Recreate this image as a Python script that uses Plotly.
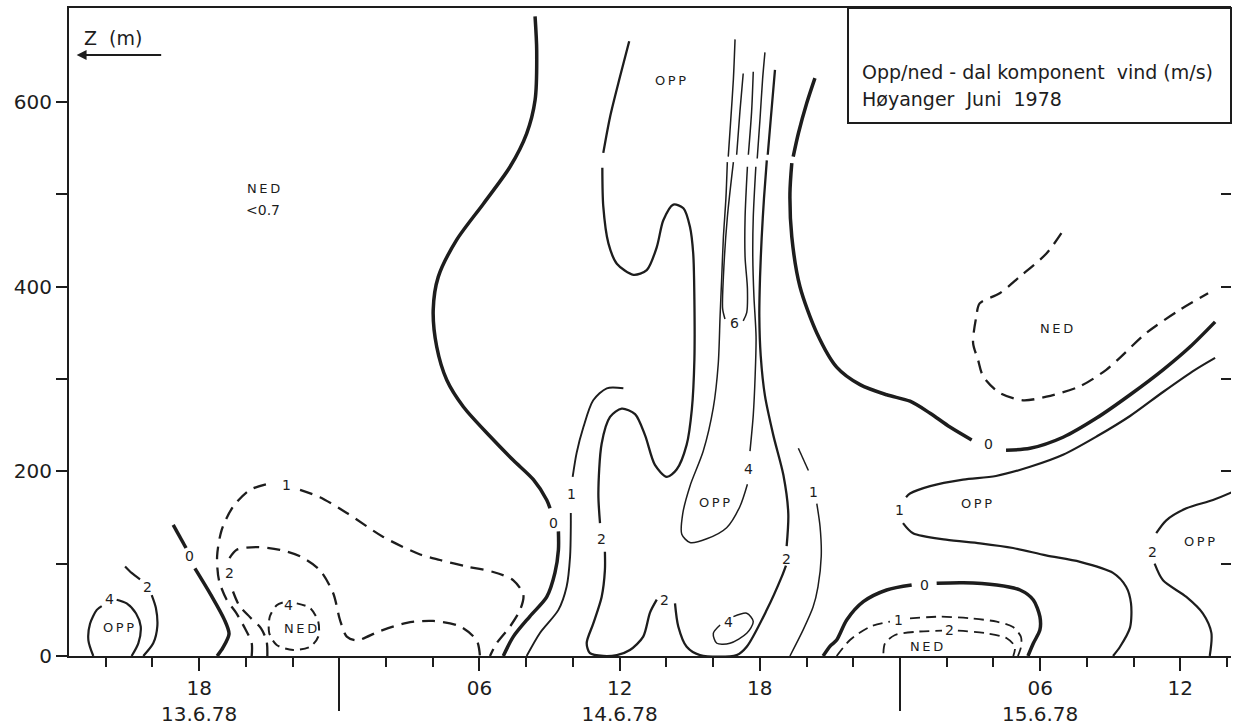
import plotly.graph_objects as go

INK = "#1d1d1d"
FONT = "DejaVu Sans"

# Time axis: hours counted from 13.6.78 00:00. Height axis: metres above ground.
X_RANGE = [12.43, 62.17]
Z_RANGE = [0, 702]

# ---------------- isotach lines (m/s), solid = OPP (up-valley), dashed = NED ----------------
# 13.6 afternoon OPP cell
c4_opp13_t = [13.47, 13.26, 13.33, 13.62, 13.83, None, 14.47, 14.90, 15.30, 15.50, 15.40, 15.11]
c4_opp13_z = [0, 17, 35, 50, 54, None, 61, 57, 46, 32, 14, 0]
c2_opp13_t = [14.83, 15.11, 15.47, None, 15.97, 16.15, 16.21, 16.04, 15.61]
c2_opp13_z = [97, 90, 83, None, 66, 52, 32, 14, 0]
c0_eve13_t = [16.89, 17.44, None, 17.82, 18.51, 19.07, 19.28, 19.02, 18.77]
c0_eve13_z = [142, 117, None, 95, 66, 40, 24, 9, 0]

# night 13./14.6 NED flow
c1_ned14_t = [20.25, 20.25, 19.96, 19.58, 19.18, 18.85, 18.77, 18.97, 19.46, 20.18, 21.03, None,
              22.32, 23.17, 24.32, 25.88, 27.46, 28.31, 29.45, 30.59, 31.45, 31.88, 31.74, 31.31, 30.74, 30.45]
c1_ned14_z = [0, 14, 30, 47, 61, 82, 108, 137, 162, 180, 187, None,
              180, 172, 155, 129, 110, 104, 97, 91, 82, 66, 50, 32, 14, 0]
c2_ned14_t = [20.92, 20.89, 20.65, 20.18, 19.71, 19.39, None, 19.30, 19.61, 20.46, 21.46, 22.32,
              23.17, 23.74, 24.03, 24.32, 24.75, 25.74, 26.89, 28.02, 29.17, 29.88, 30.02]
c2_ned14_z = [0, 16, 30, 42, 55, 74, None, 106, 115, 118, 115, 108,
              93, 68, 39, 21, 17, 27, 36, 38, 32, 17, 0]
c4_ned14_t = [22.18, 22.75, 23.10, 23.10, 22.75, 22.03, 21.32, 21.00, 21.03, 21.32, 21.58]
c4_ned14_z = [57, 52, 37, 21, 10, 6.5, 12, 25, 43, 55, 58]

# 14.6 morning turn-over and daytime OPP
c0_day14_t = [32.38, 32.45, 32.38, 32.02, 31.31, 30.17, 29.03, 28.24, 28.02, 28.17, 28.60, 29.31, 30.45,
              31.45, 32.31, 32.88, 33.02, None, 33.38, 33.38, 33.23, 32.88, 32.16, 31.45, 31.02]
c0_day14_z = [693, 656, 602, 566, 530, 490, 451, 411, 375, 335, 299, 270, 238,
              212, 191, 169, 160, None, 135, 115, 90, 64, 43, 21, 0]
c1_day14_t = [36.16, 35.45, 34.87, 34.45, 34.16, 33.99, None, 33.91, 33.91, 33.88, 33.73, 33.38, 32.59, 32.02]
c1_day14_z = [290, 290, 277, 248, 220, 194, None, 155, 140, 108, 75, 50, 25, 0]
c2_day14_t = [36.41, 36.02, 35.59, 35.30, None, 35.26, 35.30, 35.52, 35.88, 36.59, 37.16, 37.59, 37.87,
              38.30, 38.73, 39.01, 39.15, 39.20, 39.20, 39.09, 38.87, 38.44, 38.02, 37.51, 37.09, 36.66,
              36.09, 35.59, 35.23, 35.09, 35.16, None, 35.37, 35.37, 35.23, 34.87, 34.59, 34.73, 35.30,
              35.88, 36.44, 37.01, 37.30, 37.59, None, 38.37, 38.51, 38.87, 39.44, 41.01, 41.44, 42.30,
              42.94, 43.12, None, 43.15, 43.22, 43.01, 42.58, 42.22, 42.04, 41.98, 42.01, 42.08, 42.18,
              42.30, None, 42.34, 42.47, 42.65]
c2_day14_z = [666, 628, 584, 545, None, 529, 487, 447, 425, 413, 418, 443, 472,
              489, 485, 465, 436, 386, 321, 267, 229, 202, 194, 207, 239, 262,
              268, 259, 230, 176, 144, None, 113, 93, 64, 35, 14, 3, 0,
              1, 6.5, 21, 47, 61, None, 57, 32, 10, 1, 1, 10, 50,
              86, 98, None, 119, 154, 196, 239, 282, 325, 368, 410, 453, 496,
              537, None, 543, 582, 635]
c4_day14_t = [40.94, 40.87, 40.76, 40.65, None, 40.61, 40.55, 40.44, 40.37, 40.30, 40.22, 40.01, 39.58,
              39.01, 38.70, 38.66, 39.01, 39.73, 40.58, 41.15, 41.47, None, 41.58, 41.72, 41.80, 41.84,
              41.75, 41.70, 41.72, 41.83, None, 41.89, 42.01, 42.12, 42.22]
c4_day14_z = [668, 625, 582, 541, None, 535, 496, 453, 410, 368, 316, 269, 222,
              184, 154, 132, 123, 127, 139, 162, 186, None, 222, 261, 303, 346,
              389, 432, 475, 530, None, 539, 582, 625, 654]
c6_day14_t = [41.29, 41.15, 41.01, None, 40.87, 40.61, 40.44, 40.41, 40.51, None,
              41.29, 41.44, 41.47, 41.37, 41.37, 41.47, None, 41.51, 41.65, 41.72]
c6_day14_z = [631, 590, 543, None, 535, 475, 410, 376, 365, None,
              363, 372, 398, 432, 475, 530, None, 543, 590, 633]
c4_low14_t = [40.87, 41.44, 41.72, 41.44, 40.72, 40.16, 40.01, 40.30]
c4_low14_z = [42.6, 46.3, 37.2, 24.6, 13.8, 13.8, 24.6, 33.6]
c1_eve14_t = [43.65, 44.08, None, 44.44, 44.58, 44.63, 44.49, 44.28, 43.85, 43.29]
c1_eve14_z = [225, 201, None, 165, 140, 108, 75, 53, 28, 0]

# night 14./15.6 and 15.6 morning
c0_ngt15_t = [44.36, 44.01, 43.65, 43.43, None, 43.37, 43.29, 43.37, 43.72, 44.44, 45.29, 46.29, 47.43,
              48.43, 49.29, 50.14, 51.07, None, 52.54, 53.57, 54.98, 56.43, 57.85, 59.26, 60.42, 61.49]
c0_ngt15_z = [626, 599, 566, 541, None, 534, 501, 454, 400, 350, 313, 294, 283,
              276, 263, 248, 234, None, 223, 225, 237, 258, 283, 310, 335, 362]
c1_opp15_t = [61.49, 60.63, 59.26, 57.85, 56.43, 54.98, 53.57, 52.11, 50.70, 49.29, 48.43, 48.26, None,
              48.13, 48.56, 49.97, 51.43, 52.84, 54.25, 55.71, 57.12, 57.68, 57.89, 57.85, 57.42, 57.12]
c1_opp15_z = [323, 310, 286, 260, 238, 218, 205, 195, 191, 184, 176, 172, None,
              144, 133, 126, 122, 117, 109, 102, 90, 75, 57, 31, 10, 0]
ned15_up_t = [54.91, 54.27, 53.13, 52.27, 51.41, 51.27, 51.13, 51.34, 51.56, 52.27, 53.27, 54.27,
              55.69, 56.83, 57.41, 58.55, 59.98, 61.19]
ned15_up_z = [458, 436, 411, 393, 382, 368, 339, 321, 303, 285, 277, 281,
              292, 310, 323, 350, 375, 393]
c0_low15_t = [44.71, 45.01, 45.29, 45.72, 46.43, 47.43, 48.50, None, 49.57, 50.71, 52.14, 53.14,
              53.71, 53.99, 53.99, 53.71, 53.48]
c0_low15_z = [0, 10.8, 17.3, 39, 58.8, 71.5, 76.9, None, 78.8, 79.4, 76.9, 71.5,
              60.7, 42.6, 28.2, 13.8, 0]
c1_low15_t = [45.29, 45.86, 46.72, 47.57, None, 48.43, 49.71, 51.00, 52.14, 52.84, 53.18, 53.18, 53.05]
c1_low15_z = [0, 17.3, 31.7, 37.2, None, 40.8, 42.6, 40.8, 37.2, 31.4, 20.6, 9.75, 0]
c2_low15_t = [47.29, 47.36, 47.79, 48.72, 49.80, None, 50.48, 51.71, 52.57, 52.92, 52.85]
c2_low15_z = [3, 13.8, 22.7, 26.3, 27.4, None, 27.4, 24.6, 19.2, 10, 0]
c2_opp15_t = [62.26, 61.40, 60.26, 59.40, 58.97, None, 58.90, 59.26, 60.26, 60.97, 61.33, 61.26]
c2_opp15_z = [178, 169, 160, 147, 133, None, 100, 82, 64, 46, 25, 0]

# ---------------- in-field labels ----------------
label_text = ["4", "OPP", "2", "0", "2", "1", "4", "NED", "NED", "&lt;0.7",
              "0", "1", "2", "OPP", "6", "4", "OPP", "2", "4", "2", "1",
              "0", "NED", "1", "OPP", "0", "1", "2", "NED", "2", "OPP"]
label_t = [14.16, 14.54, 15.78, 17.59, 19.32, 21.75, 21.82, 22.32, 20.75, 20.75,
           33.15, 33.95, 35.23, 38.16, 40.91, 41.51, 40.08, 37.94, 40.65, 43.16, 44.29,
           51.78, 54.69, 47.99, 51.27, 49.07, 47.93, 50.14, 49.14, 58.83, 60.83]
label_z = [62, 31, 75, 108, 90, 185, 55, 30, 507, 483,
           144, 176, 127, 624, 361, 203, 166, 61, 37, 105, 178,
           230, 355, 158, 165, 77, 39, 28, 10, 113, 124]

# ---------------- axis ticks ----------------
major_hours = [18, 30, 36, 42, 54, 60]
major_text = ["18<br>13.6.78", "06", "12<br>14.6.78", "18", "06<br>15.6.78", "12"]
minor_hours = list(range(14, 63, 2))
midnight_hours = [24, 48]
z_ticks = [0, 100, 200, 300, 400, 500, 600]
z_text = ["0", "", "200", "", "400", "", "600"]
z_right_ticks = [100, 200, 300, 400, 500]

fig = go.Figure()


def isotach(t, z, width, dash="solid", xaxis="x", yaxis="y"):
    fig.add_trace(go.Scatter(
        x=t, y=z, mode="lines", xaxis=xaxis, yaxis=yaxis,
        line=dict(color=INK, width=width, dash=dash, shape="spline", smoothing=0.8),
        connectgaps=False, hoverinfo="skip", showlegend=False))


THICK, MED, THIN = 3.5, 2.2, 1.5
DASH = "13px,8px"
FINE_DASH = "10px,6px"

isotach(c4_opp13_t, c4_opp13_z, MED)
isotach(c2_opp13_t, c2_opp13_z, MED)
isotach(c0_eve13_t, c0_eve13_z, THICK)
isotach(c1_ned14_t, c1_ned14_z, 2.3, DASH)
isotach(c2_ned14_t, c2_ned14_z, 2.3, DASH)
isotach(c4_ned14_t, c4_ned14_z, 2.0, "9px,6px")
isotach(c0_day14_t, c0_day14_z, THICK)
isotach(c1_day14_t, c1_day14_z, 1.9)
isotach(c2_day14_t, c2_day14_z, 2.3)
isotach(c4_day14_t, c4_day14_z, THIN)
isotach(c6_day14_t, c6_day14_z, THIN)
isotach(c4_low14_t, c4_low14_z, THIN)
isotach(c1_eve14_t, c1_eve14_z, THIN)
isotach(c0_ngt15_t, c0_ngt15_z, THICK)
isotach(c1_opp15_t, c1_opp15_z, MED, yaxis="y2")
isotach(ned15_up_t, ned15_up_z, 2.3, DASH)
isotach(c0_low15_t, c0_low15_z, THICK)
isotach(c1_low15_t, c1_low15_z, 1.8, FINE_DASH)
isotach(c2_low15_t, c2_low15_z, 1.8, FINE_DASH)
isotach(c2_opp15_t, c2_opp15_z, MED, xaxis="x2")

annotations = []
for txt, t, z in zip(label_text, label_t, label_z):
    word = txt.isalpha()
    annotations.append(dict(
        x=t, y=z, xref="x", yref="y", showarrow=False,
        text="\u2009".join(txt) if word else txt,
        font=dict(family=FONT, size=13 if word else 14, color=INK)))

# title box text
annotations += [
    dict(x=0.6807, y=0.9012, xref="paper", yref="paper", xanchor="left", yanchor="middle",
         showarrow=False, text="Opp/ned - dal komponent  vind (m/s)",
         font=dict(family=FONT, size=19, color=INK)),
    dict(x=0.6807, y=0.8596, xref="paper", yref="paper", xanchor="left", yanchor="middle",
         showarrow=False, text="Høyanger  Juni  1978",
         font=dict(family=FONT, size=19, color=INK)),
    # height-axis caption with arrow
    dict(x=0.011, y=0.9537, xref="paper", yref="paper", xanchor="left", yanchor="middle",
         showarrow=False, text="Z  (m)", font=dict(family=FONT, size=19, color=INK)),
    dict(x=0.0066, y=0.9275, xref="paper", yref="paper", showarrow=True, text="",
         ax=86, ay=0, arrowhead=2, arrowsize=1.1, arrowwidth=1.8, arrowcolor=INK),
]

fig.update_layout(
    width=1233, height=727,
    margin=dict(l=69, r=2, t=8, b=71),
    paper_bgcolor="white", plot_bgcolor="white",
    annotations=annotations,
    shapes=[dict(type="rect", xref="paper", yref="paper", x0=0.6704, x1=1.0, y0=0.8225, y1=1.0,
                 line=dict(color=INK, width=2), fillcolor="white", layer="above")],
    xaxis=dict(
        range=X_RANGE, showline=True, linecolor=INK, linewidth=2.4, mirror=True,
        showgrid=False, zeroline=False,
        ticks="outside", ticklen=13, tickwidth=1.6, tickcolor=INK,
        tickmode="array", tickvals=major_hours, ticktext=major_text,
        tickfont=dict(family=FONT, size=20, color=INK),
        minor=dict(ticks="outside", ticklen=9, tickwidth=1.6, tickcolor=INK,
                   tickmode="array", tickvals=minor_hours, showgrid=False)),
    xaxis2=dict(
        range=X_RANGE, overlaying="x", anchor="y", side="bottom",
        showline=False, showgrid=False, zeroline=False,
        ticks="outside", ticklen=54, tickwidth=2.2, tickcolor=INK,
        tickmode="array", tickvals=midnight_hours, showticklabels=False),
    yaxis=dict(
        range=Z_RANGE, showline=True, linecolor=INK, linewidth=2.2,
        showgrid=False, zeroline=False,
        ticks="outside", ticklen=11, tickwidth=1.8, tickcolor=INK,
        tickmode="array", tickvals=z_ticks, ticktext=z_text,
        tickfont=dict(family=FONT, size=20, color=INK)),
    yaxis2=dict(
        range=Z_RANGE, overlaying="y", anchor="x", side="right",
        showline=False, showgrid=False, zeroline=False,
        ticks="inside", ticklen=10, tickwidth=1.8, tickcolor=INK,
        tickmode="array", tickvals=z_right_ticks, showticklabels=False),
)

fig.write_html("out.html")
